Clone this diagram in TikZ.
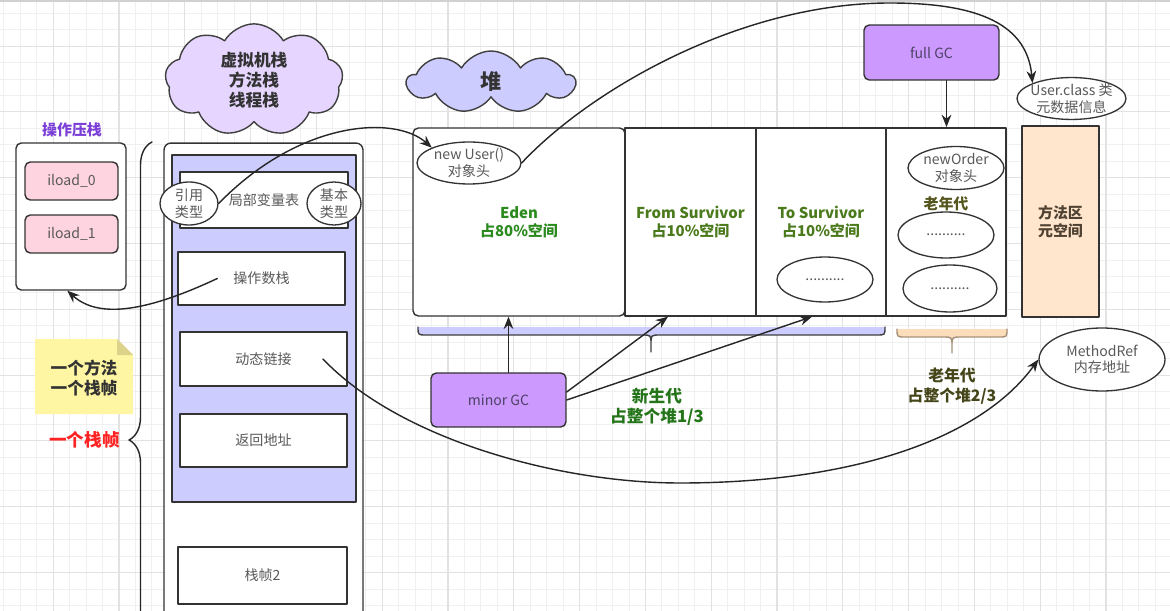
\documentclass[tikz,border=0pt]{standalone}
\usepackage{fontspec}
\setmainfont{Noto Sans CJK SC}
\usetikzlibrary{shapes.geometric,shapes.symbols,arrows.meta,decorations.pathreplacing}
\definecolor{gridMin}{HTML}{F0F0F0}
\definecolor{gridMaj}{HTML}{E2E2E2}
\definecolor{frameBlue}{HTML}{CCCCFF}
\definecolor{cloudLilac}{HTML}{E6D6FF}
\definecolor{gcPurple}{HTML}{CC99FF}
\definecolor{gcText}{HTML}{4E4266}
\definecolor{loadPink}{HTML}{FFD4E1}
\definecolor{areaPeach}{HTML}{FFE6CC}
\definecolor{bracePeach}{HTML}{FBDDBC}
\definecolor{braceTan}{HTML}{A8927A}
\definecolor{noteYellow}{HTML}{FFF6A3}
\definecolor{noteFold}{HTML}{DCD28A}
\definecolor{edenGreen}{HTML}{2A8A1E}
\definecolor{survGreen}{HTML}{4B7A1C}
\definecolor{oldOlive}{HTML}{55561E}
\definecolor{areaBrown}{HTML}{4F4232}
\definecolor{pushViolet}{HTML}{7B3FD8}
\definecolor{frameRed}{HTML}{FF2222}
\begin{document}
\begin{tikzpicture}[x=0.02cm,y=-0.02cm,line join=round,line cap=round,>={Stealth[length=7pt,width=5.5pt]},
	font=\fontsize{8}{9.5}\selectfont,
	box/.style={draw=black!80,line width=0.8pt,fill=white,text=black!65,inner sep=0pt,align=center},
	ell/.style={ellipse,draw=black!80,line width=0.75pt,fill=white,text=black!65,inner sep=0pt,align=center},
	gcbox/.style={box,fill=gcPurple,text=gcText,rounded corners=3pt,minimum width=2.7cm},
	puff/.style={cloud,cloud puffs=9,cloud puff arc=120,cloud ignores aspect,draw=black!75,line width=0.8pt,
		text=black!80,font=\bfseries\fontsize{9.5}{11.5}\selectfont,align=center},
	lbl/.style={font=\bfseries\fontsize{8.5}{10}\selectfont,align=center},
	link/.style={->,line width=0.8pt,black!85}]
	\useasboundingbox (0,0) rectangle (1170,611);
	\clip (0,0) rectangle (1170,611);
	\fill[white] (0,0) rectangle (1170,611);
	\foreach \i in {0,...,71} \draw[gridMin,line width=0.5pt] ({3.85+16.45*\i},0) -- ({3.85+16.45*\i},611);
	\foreach \j in {0,...,36} \draw[gridMin,line width=0.5pt] (0,{13.2+16.45*\j}) -- (1170,{13.2+16.45*\j});
	\foreach \i in {0,...,17} \draw[gridMaj,line width=0.6pt] ({53.2+65.8*\i},0) -- ({53.2+65.8*\i},611);
	\foreach \j in {0,...,9} \draw[gridMaj,line width=0.6pt] (0,{46.1+65.8*\j}) -- (1170,{46.1+65.8*\j});
	\fill[black!18] (0,0) rectangle (1170,2.5);

	\node[puff,fill=cloudLilac,minimum width=3.56cm,minimum height=1.5cm] (cloudStack) at (254,80) {虚拟机栈\\方法栈\\线程栈};
	\node[puff,fill=frameBlue,minimum width=3.36cm,minimum height=1.24cm,font=\bfseries\fontsize{12}{14}\selectfont] (cloudHeap) at (491,82) {堆};

	\node[lbl,text=pushViolet] (lblPush) at (72,130) {操作压栈};
	\node[box,rounded corners=3pt,minimum width=2.2cm,minimum height=2.94cm] (opStack) at (71,216.5) {};
	\node[box,fill=loadPink,rounded corners=3pt,minimum width=1.86cm,minimum height=0.76cm] (iload0) at (71.5,181) {iload\_0};
	\node[box,fill=loadPink,rounded corners=3pt,minimum width=1.86cm,minimum height=0.76cm] (iload1) at (71.5,234) {iload\_1};

	\fill[noteYellow] (35,339) -- (117,339) -- (133,355) -- (133,414) -- (35,414) -- cycle;
	\fill[noteFold] (117,339) -- (133,355) -- (117,355) -- cycle;
	\node[font=\bfseries\fontsize{9.5}{11.5}\selectfont,text=black!80,align=center] (noteText) at (84,378) {一个方法\\一个栈帧};
	\node[font=\bfseries\fontsize{10}{12}\selectfont,text=frameRed] (lblFrame) at (84.5,440) {一个栈帧};
	\draw[line width=0.8pt,black!85,decorate,decoration={brace,amplitude=0.46cm}] (152,738) -- (152,142);

	\node[box,rounded corners=4pt,minimum width=3.98cm,minimum height=10.34cm] (stackOuter) at (263.5,401.5) {};
	\node[box,fill=frameBlue,minimum width=3.68cm,minimum height=6.94cm] (frame) at (264,328.5) {};
	\node[box,minimum width=3.36cm,minimum height=1.12cm] (localVar) at (264,200) {局部变量表};
	\node[ell,minimum width=1.16cm,minimum height=0.86cm] (refType) at (189,203.5) {引用\\类型};
	\node[ell,minimum width=1.08cm,minimum height=0.86cm] (baseType) at (334,203.5) {基本\\类型};
	\node[box,minimum width=3.34cm,minimum height=1.06cm] (opNum) at (261.5,278.5) {操作数栈};
	\node[box,minimum width=3.34cm,minimum height=1.08cm] (dynLink) at (263.5,359) {动态链接};
	\node[box,minimum width=3.34cm,minimum height=1.06cm] (retAddr) at (263.5,440.5) {返回地址};
	\node[box,minimum width=3.38cm,minimum height=1.14cm] (frame2) at (262.5,575.5) {栈帧2};

	\node[box,rounded corners=3pt,minimum width=4.24cm,minimum height=3.76cm,text=edenGreen,font=\bfseries\fontsize{8.5}{10}\selectfont] (eden) at (519,222) {Eden\\占80\%空间};
	\node[box,minimum width=2.62cm,minimum height=3.76cm,text=survGreen,font=\bfseries\fontsize{8.5}{10}\selectfont] (fromS) at (690.5,222) {From Survivor\\占10\%空间};
	\node[box,minimum width=2.6cm,minimum height=3.76cm,text=survGreen,font=\bfseries\fontsize{8.5}{10}\selectfont] (toS) at (821,222) {To Survivor\\占10\%空间};
	\node[box,line width=1.1pt,minimum width=2.4cm,minimum height=3.76cm] (oldGen) at (946,222) {};
	\node[ell,minimum width=2.08cm,minimum height=0.84cm] (newUser) at (469,163) {new User()\\对象头};
	\node[ell,minimum width=1.92cm,minimum height=0.9cm] (toEll) at (825,279.5) {..........};
	\node[ell,minimum width=1.92cm,minimum height=0.86cm] (newOrder) at (956,168) {newOrder\\对象头};
	\node[lbl,text=oldOlive] (oldLbl) at (946,204) {老年代};
	\node[ell,minimum width=1.92cm,minimum height=0.92cm] (oldEll1) at (946,235) {..........};
	\node[ell,minimum width=1.88cm,minimum height=0.94cm] (oldEll2) at (950,288.5) {..........};
	\node[box,fill=areaPeach,minimum width=1.54cm,minimum height=3.82cm,text=areaBrown,font=\bfseries\fontsize{8.5}{10}\selectfont] (methodArea) at (1060.5,221.5) {方法区\\元空间};

	\node[gcbox,minimum height=1.1cm] (fullGC) at (931.5,52.5) {full GC};
	\node[ell,inner xsep=-2pt,minimum width=2.18cm,minimum height=0.78cm] (userClass) at (1071.5,98.5) {User.class 类\\元数据信息};
	\node[ell,minimum width=2.52cm,minimum height=1.26cm] (methodRef) at (1102,359.5) {MethodRef\\内存地址};
	\node[gcbox,minimum height=1.08cm] (minorGC) at (498.5,400) {minor GC};

	\def\bl{418} \def\bm{651} \def\br{885} \def\bt{327} \def\bs{335} \def\bp{352}
	\fill[frameBlue] (\bl,\bt) .. controls (\bl,\bs) .. (\bl+8,\bs) -- (\bm-9,\bs) .. controls (\bm,\bs) .. (\bm,\bs+9) -- (\bm,\bs+9) .. controls (\bm,\bs) .. (\bm+9,\bs) -- (\br-8,\bs) .. controls (\br,\bs) .. (\br,\bt) -- cycle;
	\draw[black!75,line width=0.8pt] (\bl,\bt) .. controls (\bl,\bs) .. (\bl+8,\bs) -- (\bm-9,\bs) .. controls (\bm,\bs) .. (\bm,\bs+9) -- (\bm,\bp) (\bm,\bs+9) .. controls (\bm,\bs) .. (\bm+9,\bs) -- (\br-8,\bs) .. controls (\br,\bs) .. (\br,\bt);
	\def\bl{897} \def\bm{952} \def\br{1007} \def\bt{329} \def\bs{337} \def\bp{353}
	\fill[bracePeach] (\bl,\bt) .. controls (\bl,\bs) .. (\bl+8,\bs) -- (\bm-9,\bs) .. controls (\bm,\bs) .. (\bm,\bs+9) -- (\bm,\bs+9) .. controls (\bm,\bs) .. (\bm+9,\bs) -- (\br-8,\bs) .. controls (\br,\bs) .. (\br,\bt) -- cycle;
	\draw[braceTan,line width=0.8pt] (\bl,\bt) .. controls (\bl,\bs) .. (\bl+8,\bs) -- (\bm-9,\bs) .. controls (\bm,\bs) .. (\bm,\bs+9) -- (\bm,\bp) (\bm,\bs+9) .. controls (\bm,\bs) .. (\bm+9,\bs) -- (\br-8,\bs) .. controls (\br,\bs) .. (\br,\bt);
	\node[lbl,font=\bfseries\fontsize{9.5}{11.5}\selectfont,text=edenGreen!85!black] (youngLbl) at (657,407) {新生代\\占整个堆1/3};
	\node[lbl,font=\bfseries\fontsize{9}{11}\selectfont,text=oldOlive!80!black] (oldTotal) at (952,386) {老年代\\占整个堆2/3};

	\draw[link] ([xshift=0.2cm]minorGC.north) -- ([xshift=0.2cm]minorGC.north |- eden.south);
	\draw[link] ([yshift=0.16cm]minorGC.east) -- ([xshift=-0.45cm]fromS.south);
	\draw[link] (minorGC.east) -- ([xshift=-0.18cm]toS.south);
	\draw[link] ([xshift=0.3cm]fullGC.south) -- ([xshift=0.3cm]fullGC.south |- oldGen.north);

	\draw[link] (refType.east) .. controls (300,120) and (395,115) .. (newUser.north west);
	\draw[link] (newUser.east) .. controls (590,90) and (740,3) .. (890,3) .. controls (980,3) and (1027,25) .. (userClass.north west);
	\draw[link] ([xshift=0.8cm]opNum.west) .. controls (150,310) and (100,320) .. ([xshift=1.04cm]opStack.south west);
	\draw[link] ([xshift=1.19cm]dynLink.center) .. controls (400,440) and (560,483) .. (680,483) .. controls (850,483) and (980,440) .. (methodRef.west);
\end{tikzpicture}
\end{document}
